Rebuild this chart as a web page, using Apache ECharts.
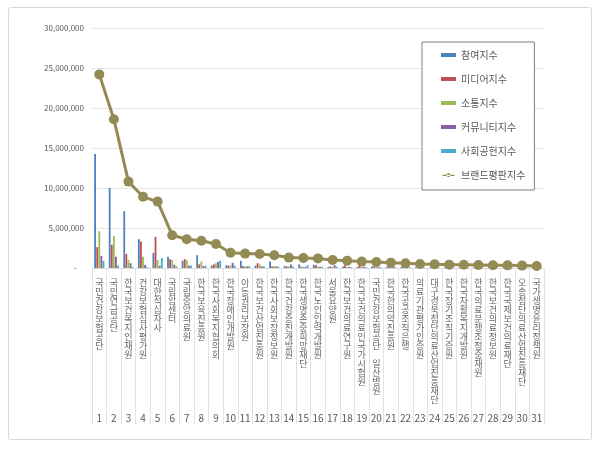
<!DOCTYPE html>
<html>
<head>
<meta charset="utf-8">
<script src="https://cdn.jsdelivr.net/npm/echarts@6/dist/echarts.min.js"></script>
<style>
    html, body { margin: 0; padding: 0; background: #fff; }
    #chart { width: 600px; height: 449px; }
</style>
</head>
<body>
<div id="chart"></div>
<script>
/*보건복지 공공기관 브랜드평판 차트*/
var categories = ['국민건강보험공단', '국민연금공단', '한국보건복지인재원', '건강보험심사평가원', '대한적십자사',
    '국립암센터', '국립중앙의료원', '한국보육진흥원', '한국사회복지협의회', '한국장애인개발원',
    '아동권리보장원', '한국보건산업진흥원', '한국사회보장정보원', '한국건강증진개발원', '한국생명존중희망재단',
    '한국노인인력개발원', '서울요양원', '한국보건의료연구원', '한국보건의료인국가시험원', '국민건강보험공단 일산병원',
    '한국한의약진흥원', '한국공공조직은행', '의료기관평가인증원', '대구경북첨단의료산업진흥재단', '한국장기조직기증원',
    '한국자활복지개발원', '한국의료분쟁조정중재원', '한국보건의료정보원', '한국국제보건의료재단', '오송첨단의료산업진흥재단',
    '국가생명윤리정책원'];
var ranks = ['1', '2', '3', '4', '5', '6', '7', '8', '9', '10', '11', '12', '13', '14', '15', '16',
    '17', '18', '19', '20', '21', '22', '23', '24', '25', '26', '27', '28', '29', '30', '31'];
var yTicks = [0, 5000000, 10000000, 15000000, 20000000, 25000000, 30000000];

//지수 값
var participation = [14250000, 10000000, 7100000, 3600000, 1900000, 1400000, 900000, 1600000, 300000, 350000,
    900000, 300000, 800000, 250000, 450000, 400000, 150000, 200000, 150000, 200000,
    150000, 120000, 100000, 100000, 90000, 90000, 80000, 80000, 70000, 70000, 60000];
var media = [2600000, 2900000, 1750000, 3300000, 3900000, 1100000, 1100000, 450000, 450000, 300000,
    250000, 600000, 200000, 200000, 150000, 350000, 200000, 350000, 300000, 200000,
    200000, 180000, 150000, 140000, 130000, 120000, 110000, 100000, 100000, 90000, 80000];
var communication = [4600000, 4000000, 1000000, 1400000, 1000000, 1000000, 1000000, 800000, 600000, 300000,
    200000, 450000, 250000, 200000, 150000, 150000, 150000, 100000, 100000, 100000,
    100000, 100000, 80000, 70000, 70000, 70000, 70000, 60000, 60000, 50000, 40000];
var community = [1500000, 1400000, 600000, 400000, 300000, 400000, 300000, 250000, 750000, 650000,
    200000, 200000, 200000, 450000, 150000, 150000, 350000, 150000, 150000, 150000,
    120000, 100000, 100000, 90000, 80000, 70000, 70000, 60000, 60000, 50000, 50000];
var social = [900000, 300000, 100000, 100000, 1250000, 200000, 300000, 300000, 900000, 300000,
    250000, 200000, 150000, 200000, 350000, 150000, 150000, 100000, 100000, 100000,
    100000, 80000, 70000, 60000, 50000, 50000, 50000, 50000, 40000, 40000, 30000];
var brandIndex = [24200000, 18600000, 10800000, 8900000, 8300000, 4100000, 3600000, 3400000, 3000000, 1900000,
    1800000, 1750000, 1600000, 1300000, 1250000, 1200000, 1000000, 900000, 800000, 750000,
    670000, 580000, 500000, 460000, 420000, 400000, 380000, 350000, 330000, 300000, 260000];

var textColor = '#595959';
var fontFamily = '"Noto Sans CJK KR", "Noto Sans", sans-serif';

function barSeries(name, data, color) {
    return {
        name: name,
        type: 'bar',
        data: data,
        barGap: '15%',
        barCategoryGap: '30%',
        itemStyle: { color: color }
    };
}

var chart = echarts.init(document.getElementById('chart'));
var option = {
    animation: false,
    textStyle: { fontFamily: fontFamily },
    graphic: [{
        type: 'rect',
        shape: { x: 8.5, y: 7.5, width: 583, height: 432, r: 2 },
        style: { fill: 'none', stroke: '#d9d9d9', lineWidth: 1 },
        silent: true
    }],
    legend: {
        orient: 'vertical',
        left: 422,
        top: 42,
        padding: [8, 9, 10, 19],
        borderColor: '#7f7f7f',
        borderWidth: 1,
        backgroundColor: '#fff',
        itemGap: 14,
        itemWidth: 15,
        itemHeight: 4,
        textStyle: { fontSize: 10, color: textColor, fontFamily: fontFamily },
        data: [
            { name: '참여지수', icon: 'rect' },
            { name: '미디어지수', icon: 'rect' },
            { name: '소통지수', icon: 'rect' },
            { name: '커뮤니티지수', icon: 'rect' },
            { name: '사회공헌지수', icon: 'rect' },
            { name: '브랜드평판지수', icon: 'path://M0,2.2h15v1.6h-15z M7.5,0a2.5,2.5 0 1,0 0.01,0z' }
        ]
    },
    grid: { left: 92, right: 56, top: 28, bottom: 181 },
    xAxis: [{
        type: 'category',
        data: categories,
        axisLine: { lineStyle: { color: '#d9d9d9' } },
        axisTick: { show: true, interval: 0, length: 157, lineStyle: { color: '#e3e3e3' } },
        axisLabel: {
            interval: 0,
            rotate: 0,
            hideOverlap: false,
            margin: 10,
            fontSize: 9,
            lineHeight: 9,
            color: '#666',
            verticalAlign: 'top',
            formatter: function(v) {
                return v.split('').join('\n');
            }
        }
    }, {
        type: 'category',
        data: ranks,
        position: 'bottom',
        offset: 145,
        axisLine: { show: false },
        axisTick: { show: false },
        axisLabel: { interval: 0, margin: 0, fontSize: 10, color: textColor }
    }],
    yAxis: {
        type: 'value',
        min: yTicks[0],
        max: yTicks[yTicks.length - 1],
        interval: yTicks[1] - yTicks[0],
        axisLine: { show: false },
        axisTick: { show: false },
        splitLine: { lineStyle: { color: '#e6e6e6' } },
        axisLabel: {
            fontSize: 8,
            color: textColor,
            margin: 8,
            formatter: function(v) {
                if (v == 0) return '-    ';
                return v.toString().replace(/\B(?=(\d{3})+(?!\d))/g, ',');
            }
        }
    },
    series: [
        barSeries('참여지수', participation, '#4f81bd'),
        barSeries('미디어지수', media, '#c0504d'),
        barSeries('소통지수', communication, '#9bbb59'),
        barSeries('커뮤니티지수', community, '#8064a2'),
        barSeries('사회공헌지수', social, '#4bacc6'),
        {
            name: '브랜드평판지수',
            type: 'line',
            data: brandIndex,
            z: 5,
            symbol: 'circle',
            symbolSize: 10,
            lineStyle: { width: 3, color: '#948a54' },
            itemStyle: { color: '#948a54' }
        }
    ]
};
chart.setOption(option);
</script>
</body>
</html>
